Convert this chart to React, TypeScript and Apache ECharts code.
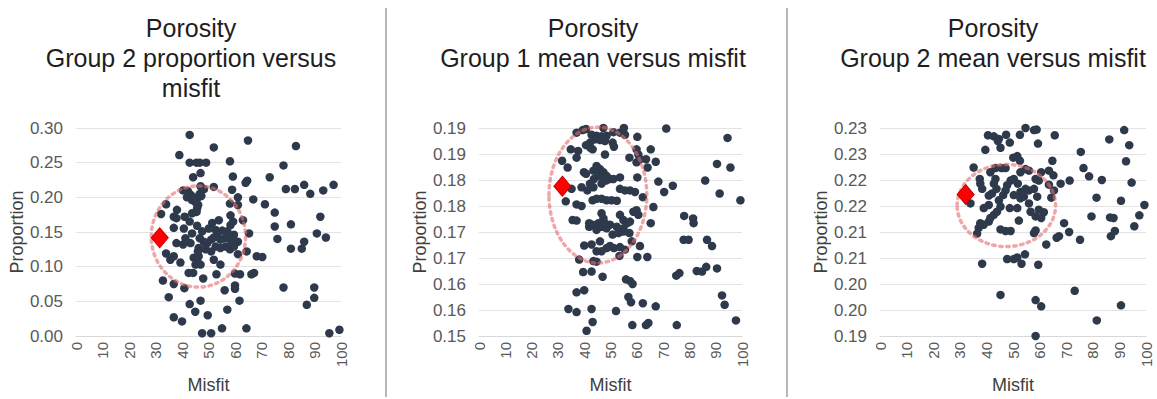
import React, { useEffect, useRef } from "react";
import * as echarts from "echarts";

// ---------- Data ----------
const titles = [
  "Porosity\nGroup 2 proportion versus\nmisfit",
  "Porosity\nGroup 1 mean versus misfit",
  "Porosity\nGroup 2 mean versus misfit",
];
const xAxisName = "Misfit";
const yAxisName = "Proportion";

const yMins = [0, 0.15, 0.19];
const yMaxs = [0.3, 0.19, 0.23];
const yIntervals = [0.05, 0.005, 0.005];

// panel 1: Group 2 proportion vs misfit
const panel1Points: number[][] = [
  [42.9, 0.29], [52.0, 0.272], [64.9, 0.282], [83.0, 0.274], [39.0, 0.261],
  [42.9, 0.25], [45.5, 0.25], [46.7, 0.25], [49.1, 0.25], [58.1, 0.252], [78.3, 0.246],
  [47.0, 0.235], [44.2, 0.229], [59.2, 0.23], [64.6, 0.224], [64.0, 0.221], [73.1, 0.229],
  [86.1, 0.218], [97.2, 0.218], [93.3, 0.21], [88.4, 0.205], [82.6, 0.212], [79.2, 0.212],
  [66.9, 0.197], [71.3, 0.19], [61.1, 0.2], [58.9, 0.211], [47.0, 0.216], [48.3, 0.212], [52.0, 0.215],
  [40.4, 0.21], [42.2, 0.209],
  [43.2, 0.204], [44.4, 0.2], [45.7, 0.198], [43.8, 0.196], [45.1, 0.193], [46.1, 0.189], [45.7, 0.184],
  [46.7, 0.205], [47.3, 0.202], [41.9, 0.2], [45.5, 0.179], [43.8, 0.177],
  [34.0, 0.19], [32.1, 0.176], [38.1, 0.182], [36.9, 0.172], [58.1, 0.191], [61.1, 0.189], [58.3, 0.174],
  [59.3, 0.165], [63.0, 0.167], [65.3, 0.148],
  [75.0, 0.178], [75.0, 0.158], [76.0, 0.14], [81.1, 0.161], [92.2, 0.172], [90.9, 0.148], [94.3, 0.142],
  [86.1, 0.136], [85.2, 0.126], [81.1, 0.126],
  [64.4, 0.122], [61.1, 0.118], [68.2, 0.115], [70.3, 0.114], [67.2, 0.091], [66.2, 0.089], [60.0, 0.09],
  [61.9, 0.089], [60.0, 0.073], [60.0, 0.068],
  [56.1, 0.066], [61.7, 0.051], [57.1, 0.038], [78.3, 0.07], [89.9, 0.07], [89.9, 0.055], [87.1, 0.045],
  [95.6, 0.004], [99.4, 0.009], [64.3, 0.011],
  [55.1, 0.011], [47.6, 0.004], [51.0, 0.004], [49.7, 0.03], [45.0, 0.035], [42.9, 0.046], [47.0, 0.051],
  [48.0, 0.083], [36.9, 0.027], [40.0, 0.021],
  [35.0, 0.056], [32.8, 0.08], [36.9, 0.075], [40.9, 0.069], [42.5, 0.091], [44.2, 0.091], [45.7, 0.108],
  [44.4, 0.113], [39.4, 0.106], [36.9, 0.115],
  [34.0, 0.119], [35.6, 0.11], [37.9, 0.134], [36.9, 0.156], [37.9, 0.17], [40.7, 0.155], [41.3, 0.141],
  [40.4, 0.132], [43.2, 0.134], [43.8, 0.148],
  [45.7, 0.159], [42.9, 0.165], [41.0, 0.172], [47.6, 0.151],
  [46.7, 0.141], [48.2, 0.136], [49.5, 0.134], [51.0, 0.139], [52.0, 0.142], [53.3, 0.146], [54.5, 0.139],
  [56.1, 0.141], [57.7, 0.144], [58.6, 0.136], [59.6, 0.146],
  [57.1, 0.151], [55.2, 0.152], [52.7, 0.153], [51.4, 0.163], [53.9, 0.167], [50.1, 0.155], [46.3, 0.127],
  [46.0, 0.122], [48.9, 0.125], [51.0, 0.122],
  [52.7, 0.129], [54.5, 0.127], [56.4, 0.129], [58.1, 0.125], [59.6, 0.129], [61.1, 0.136], [58.3, 0.16],
  [54.5, 0.103], [53.0, 0.089],
  [52.0, 0.11], [46.3, 0.115], [47.0, 0.103], [45.1, 0.103],
];

// panel 2: Group 1 mean vs misfit
const panel2Points: number[][] = [
  [37.1, 0.1891], [39.4, 0.1896], [40.7, 0.1898], [47.3, 0.19], [51.1, 0.1892], [53.6, 0.1891], [55.1, 0.19], [55.5, 0.1887],
  [42.8, 0.1887], [44.7, 0.1885], [46.6, 0.1884], [48.5, 0.1885],
  [44.1, 0.1878], [46.0, 0.1877], [47.9, 0.1875],
  [42.2, 0.1872], [50.8, 0.1872], [51.3, 0.1864],
  [60.2, 0.1883], [71.2, 0.1899], [94.5, 0.1881],
  [40.7, 0.1867], [42.4, 0.1862], [43.2, 0.1859], [34.9, 0.1859], [37.7, 0.1856], [37.1, 0.1843], [31.6, 0.1837],
  [47.9, 0.1849], [57.2, 0.1843],
  [59.9, 0.1859], [60.6, 0.1849], [61.2, 0.184], [59.9, 0.1834],
  [63.5, 0.184], [64.1, 0.1824], [65.3, 0.1859], [67.2, 0.1835], [33.7, 0.1824], [90.5, 0.1831], [95.6, 0.1824],
  [39.9, 0.1815], [40.7, 0.1812],
  [44.7, 0.1827], [46.0, 0.1821], [43.5, 0.1818], [47.3, 0.1815], [45.4, 0.1812], [46.6, 0.1805], [48.5, 0.1808],
  [43.7, 0.1802], [48.3, 0.1799], [49.8, 0.1802], [46.6, 0.1793], [43.5, 0.1786],
  [51.1, 0.1802], [53.6, 0.1805], [60.2, 0.1805], [68.2, 0.1797], [73.7, 0.1789], [70.4, 0.1777],
  [86.0, 0.1799], [91.5, 0.1774], [99.4, 0.1761],
  [35.2, 0.1783], [39.0, 0.1786], [41.2, 0.178], [42.2, 0.1793],
  [33.0, 0.1759], [37.1, 0.1753], [39.0, 0.175],
  [43.2, 0.1761], [44.7, 0.1764], [46.6, 0.1764], [48.5, 0.1761], [50.4, 0.1761], [52.4, 0.176],
  [53.6, 0.1783], [55.5, 0.178], [57.4, 0.178], [59.3, 0.1777],
  [62.3, 0.1767], [66.3, 0.1748], [59.9, 0.1742], [60.6, 0.1733], [58.7, 0.1739],
  [78.0, 0.1731], [81.4, 0.1726], [81.6, 0.1717],
  [35.6, 0.1723], [37.1, 0.1722], [41.9, 0.1717], [41.9, 0.171],
  [46.6, 0.1736], [47.3, 0.1726], [47.9, 0.1717], [46.6, 0.171], [48.5, 0.1707], [49.8, 0.1714], [45.4, 0.1717],
  [53.6, 0.1733], [54.9, 0.1723], [56.4, 0.1717], [52.4, 0.171], [54.9, 0.1707], [57.4, 0.172],
  [50.8, 0.1695], [53.0, 0.1698], [54.9, 0.1701], [57.2, 0.1698],
  [65.3, 0.1717], [43.2, 0.1714], [44.7, 0.1704],
  [40.0, 0.1674], [42.8, 0.1676],
  [46.0, 0.1682], [48.5, 0.1669], [46.6, 0.1663], [44.7, 0.1663], [49.8, 0.1673], [51.3, 0.1669], [53.6, 0.1671], [55.5, 0.1666],
  [58.1, 0.1682], [61.2, 0.1673], [60.2, 0.1652], [64.0, 0.1652], [53.4, 0.1654],
  [43.5, 0.1644], [44.7, 0.1643], [38.1, 0.1647],
  [86.7, 0.1685], [88.6, 0.1673], [77.8, 0.1685], [79.7, 0.1685],
  [75.0, 0.1616], [76.2, 0.1621], [82.8, 0.1625], [84.8, 0.1624], [86.4, 0.1633], [90.5, 0.163],
  [39.6, 0.1623], [42.8, 0.1624], [47.0, 0.1614],
  [55.9, 0.1609], [57.4, 0.1606], [58.4, 0.16],
  [37.1, 0.1584], [40.0, 0.1588], [56.8, 0.1575], [57.8, 0.1565], [62.3, 0.1563], [67.2, 0.1557],
  [92.4, 0.1578], [93.4, 0.156],
  [34.0, 0.1552], [37.1, 0.1546], [42.8, 0.1552], [43.2, 0.1527], [40.9, 0.151], [52.1, 0.1548],
  [58.3, 0.1521], [63.5, 0.1521], [64.4, 0.1525], [75.2, 0.1521], [97.7, 0.153],
];

// panel 3: Group 2 mean vs misfit
const panel3Points: number[][] = [
  [40.6, 0.2286], [42.8, 0.2284], [44.7, 0.2279], [47.4, 0.2287], [48.8, 0.2272], [44.3, 0.2275], [45.3, 0.2262], [39.6, 0.2258],
  [52.6, 0.2287], [54.7, 0.23], [57.9, 0.2296], [58.9, 0.2297], [59.4, 0.227], [65.7, 0.2286],
  [91.8, 0.2296], [86.2, 0.2278], [93.7, 0.2267], [92.5, 0.2236], [94.6, 0.2195], [99.4, 0.2152], [97.5, 0.2132],
  [95.6, 0.2111], [90.6, 0.216],
  [75.5, 0.2254], [76.5, 0.2223], [78.6, 0.2207], [83.4, 0.22], [81.4, 0.2166], [79.5, 0.213], [75.2, 0.2085],
  [86.5, 0.2128], [87.8, 0.2127], [88.3, 0.2102], [86.8, 0.2092],
  [71.3, 0.2199], [67.9, 0.2193], [64.8, 0.2237], [63.5, 0.2218], [65.2, 0.2209],
  [63.5, 0.2191], [64.4, 0.2166], [65.4, 0.218], [69.2, 0.2117], [71.1, 0.21], [66.4, 0.2089], [67.3, 0.2092],
  [62.5, 0.2076], [60.6, 0.2127], [61.6, 0.2138], [57.9, 0.2098], [58.5, 0.2103], [59.7, 0.2143], [58.5, 0.213],
  [56.6, 0.2139], [56.0, 0.2155],
  [59.1, 0.2168], [57.9, 0.2183], [56.0, 0.218], [54.7, 0.2183], [52.8, 0.2177],
  [58.5, 0.2202], [60.6, 0.2215], [59.7, 0.2199], [52.6, 0.2237], [54.7, 0.2221], [56.0, 0.2218],
  [52.8, 0.2215], [50.3, 0.2202], [51.8, 0.2193], [49.1, 0.2199], [47.8, 0.219],
  [50.3, 0.2171], [52.8, 0.2165], [54.1, 0.2168], [51.6, 0.2146], [48.8, 0.2146], [52.2, 0.2122],
  [49.1, 0.2102], [47.2, 0.2102], [45.3, 0.2105],
  [47.2, 0.218], [46.3, 0.2171], [44.7, 0.2161], [45.3, 0.2149], [44.0, 0.2139], [42.8, 0.2133], [40.9, 0.212],
  [41.5, 0.2127], [39.0, 0.2114], [37.7, 0.2117], [37.1, 0.2108],
  [43.4, 0.2223], [41.5, 0.2215], [43.4, 0.2202], [42.8, 0.2193], [43.8, 0.2183], [42.1, 0.2174], [40.9, 0.217],
  [39.0, 0.2146], [40.9, 0.2152],
  [35.2, 0.2224], [37.5, 0.2202], [37.7, 0.2193], [38.4, 0.2183], [34.0, 0.2155], [36.5, 0.2097],
  [45.7, 0.2223], [47.2, 0.2223], [50.1, 0.2243], [51.6, 0.2246],
  [38.4, 0.2039], [47.8, 0.2048], [50.3, 0.2048], [51.6, 0.2051], [53.2, 0.2039], [54.5, 0.2057], [59.5, 0.2037],
  [45.3, 0.1979], [73.2, 0.1987], [58.5, 0.1969], [60.6, 0.1957], [90.6, 0.1959], [81.5, 0.193], [58.5, 0.19],
];

// optimum (red diamond) for each panel
const optimumPoints: number[][] = [
  [31.6, 0.1416],
  [31.7, 0.1788],
  [32.2, 0.2172],
];

// dotted circles: [centerX, centerY, radiusX, radiusY]
const circles: number[][] = [
  [46.2, 0.1435, 17.8, 0.073],
  [45.2, 0.1771, 18.6, 0.01307],
  [47.5, 0.2151, 18.5, 0.0079],
];

const xMin = 0;
const xMax = 100;
const xInterval = 10;

// ---------- Layout ----------
const FONT = 'Arial, "Liberation Sans", sans-serif';
const grids = [
  { left: 76, top: 128, width: 265, height: 211 },
  { left: 479, top: 128, width: 263, height: 211 },
  { left: 880, top: 128, width: 266, height: 212 },
];
const titleCenters = [186, 588, 988];
const separatorsX = [386, 787];

const panelPoints = [panel1Points, panel2Points, panel3Points];

function fmt(v: number) {
  return (Math.round(v * 1000) / 1000 + 1e-9).toFixed(2);
}

export default function App() {
  const ref = useRef<HTMLDivElement>(null);
  useEffect(() => {
    if (!ref.current) return;
    const chart = echarts.init(ref.current, undefined, { renderer: "svg" });

    const series: any[] = [];
    panelPoints.forEach((pts, i) => {
      series.push({
        type: "scatter",
        xAxisIndex: i,
        yAxisIndex: i,
        data: pts,
        symbol: "circle",
        symbolSize: 8.5,
        itemStyle: { color: "#2e3a4c", opacity: 1 },
        z: 2,
      });
      series.push({
        type: "custom",
        xAxisIndex: i,
        yAxisIndex: i,
        data: [circles[i]],
        clip: false,
        z: 3,
        silent: true,
        renderItem: (params: any, api: any) => {
          const c = api.coord([api.value(0), api.value(1)]);
          const s = api.size([api.value(2), api.value(3)]);
          return {
            type: "ellipse",
            shape: { cx: c[0], cy: c[1], rx: s[0], ry: s[1] },
            style: {
              fill: "none",
              stroke: "rgba(228,110,110,0.6)",
              lineWidth: 3.5,
              lineDash: [2.5, 4.5],
              lineCap: "round",
            },
          };
        },
      });
      series.push({
        type: "scatter",
        xAxisIndex: i,
        yAxisIndex: i,
        data: [optimumPoints[i]],
        symbol: "diamond",
        symbolSize: [17, 20],
        itemStyle: { color: "#ff0000", borderColor: "#c00000", borderWidth: 1, opacity: 1 },
        z: 5,
      });
    });

    const option: any = {
      animation: false,
      backgroundColor: "#ffffff",
      textStyle: { fontFamily: FONT },
      title: titles.map((t, i) => ({
        text: t,
        left: titleCenters[i],
        top: 8,
        textAlign: "center",
        textStyle: {
          fontFamily: FONT,
          fontSize: 25,
          fontWeight: "normal",
          color: "#1e1e1e",
          lineHeight: 30,
        },
      })),
      grid: grids.map((g) => ({ ...g, containLabel: false })),
      xAxis: grids.map((_, i) => ({
        type: "value",
        gridIndex: i,
        min: xMin,
        max: xMax,
        interval: xInterval,
        name: xAxisName,
        nameLocation: "middle",
        nameGap: 40,
        nameTextStyle: { fontFamily: FONT, fontSize: 18, color: "#404040" },
        axisLine: { show: true, lineStyle: { color: "#d9d9d9", width: 1 } },
        axisTick: { show: false },
        splitLine: { show: false },
        axisLabel: {
          rotate: 90,
          margin: 6,
          fontFamily: FONT,
          fontSize: 15,
          color: "#595959",
        },
      })),
      yAxis: grids.map((_, i) => ({
        type: "value",
        gridIndex: i,
        min: yMins[i],
        max: yMaxs[i],
        interval: yIntervals[i],
        name: yAxisName,
        nameLocation: "middle",
        nameGap: 50,
        nameTextStyle: { fontFamily: FONT, fontSize: 18, color: "#404040" },
        axisLine: { show: false },
        axisTick: { show: false },
        splitLine: { show: true, lineStyle: { color: "#e3e3e3", width: 1 } },
        axisLabel: {
          margin: 13,
          fontFamily: FONT,
          fontSize: 17,
          color: "#595959",
          formatter: (v: number) => fmt(v),
        },
      })),
      graphic: separatorsX.map((x) => ({
        type: "line",
        shape: { x1: x, y1: 8, x2: x, y2: 397 },
        style: { stroke: "#a0a0a0", lineWidth: 1.5 },
        silent: true,
      })),
      series,
    };

    chart.setOption(option);
    return () => chart.dispose();
  }, []);

  return (
    <div
      ref={ref}
      style={{ position: "fixed", left: 0, top: 0, width: 1157, height: 399, background: "#fff" }}
    />
  );
}
